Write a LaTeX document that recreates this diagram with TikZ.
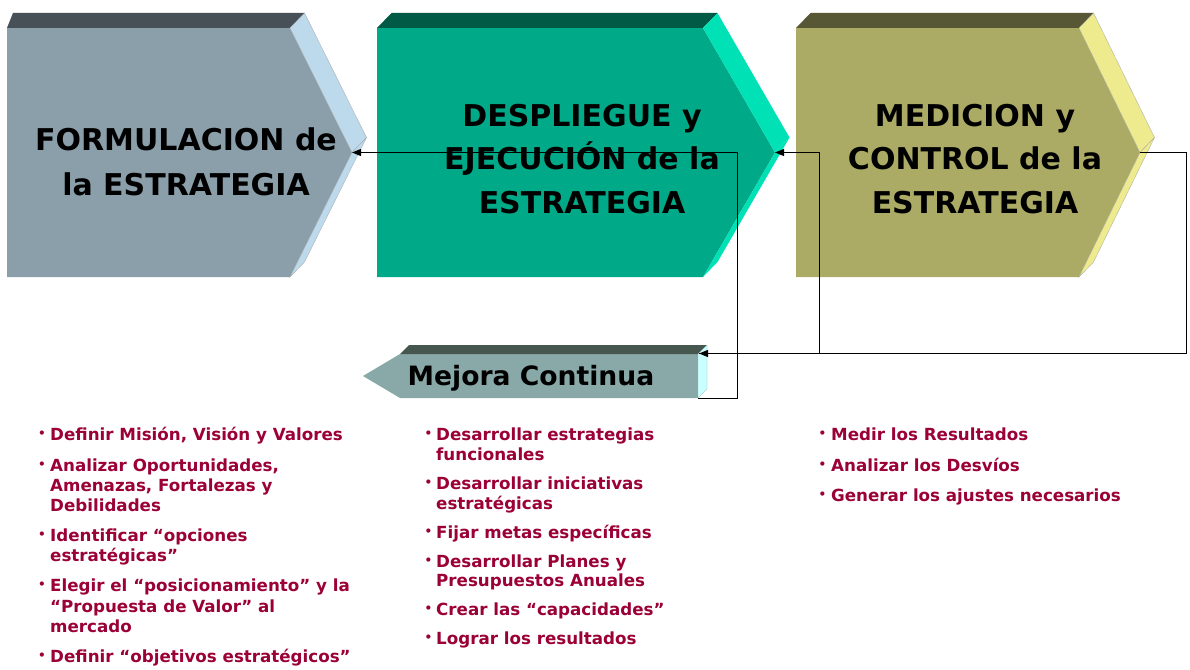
\documentclass[tikz,border=0pt]{standalone}
\usepackage{fontspec}
\setmainfont{DejaVu Sans}
\usetikzlibrary{arrows.meta,calc}
\definecolor{fFront}{HTML}{8A9FAA}
\definecolor{fTop}{HTML}{475057}
\definecolor{fSide}{HTML}{BDD9EC}
\definecolor{dFront}{HTML}{00A987}
\definecolor{dTop}{HTML}{005A46}
\definecolor{dSide}{HTML}{00E2B6}
\definecolor{mFront}{HTML}{ABAB66}
\definecolor{mTop}{HTML}{585735}
\definecolor{mSide}{HTML}{EDEB8E}
\definecolor{cFront}{HTML}{89A8A8}
\definecolor{cTop}{HTML}{45574F}
\definecolor{cSide}{HTML}{C9FFFF}
\definecolor{bul}{HTML}{9B0036}
\tikzset{
  title/.style={font=\fontsize{30}{44}\selectfont\bfseries, text=black, anchor=base, inner sep=0pt},
  mejora/.style={font=\fontsize{26.6}{30}\selectfont\bfseries, text=black, anchor=base, inner sep=0pt},
  item/.style={font=\fontsize{16.7}{20}\selectfont\bfseries, text=bul, anchor=base west, inner sep=0pt},
  dot/.style={font=\fontsize{12}{12}\selectfont\bfseries, text=bul, anchor=base west, inner sep=0pt},
  edge/.style={draw=gray!70, line width=0.3pt},
  conn/.style={draw=black, line width=1pt},
  arr/.style={-{Triangle[length=9pt,width=7pt]}}
}
\begin{document}
\begin{tikzpicture}[x=1pt,y=-1pt]
\useasboundingbox (0,0) rectangle (1190,669);
\fill[white] (0,0) rectangle (1190,669);
% FORMULACION chevron
\fill[fFront] (7,28) -- (290,28) -- (352,152.5) -- (290,277) -- (7,277) -- cycle;
\fill[fTop] (7,28) -- (13,13) -- (304.5,13) -- (290,28) -- cycle;
\filldraw[fill=fSide,edge] (290,28) -- (304.5,13) -- (366.5,137.5) -- (352,152.5) -- cycle;
\filldraw[fill=fSide,edge] (352,152.5) -- (366.5,137.5) -- (304.5,262) -- (290,277) -- cycle;
% DESPLIEGUE chevron
\fill[dFront] (377,28) -- (703,28) -- (775,152.5) -- (703,277) -- (377,277) -- cycle;
\fill[dTop] (377,28) -- (391.5,13) -- (717.5,13) -- (703,28) -- cycle;
\fill[dSide] (703,28) -- (717.5,13) -- (789.5,137.5) -- (775,152.5) -- cycle;
\fill[dSide] (775,152.5) -- (789.5,137.5) -- (717.5,262) -- (703,277) -- cycle;
% MEDICION chevron
\fill[mFront] (796,28) -- (1079,28) -- (1140,152.5) -- (1079,277) -- (796,277) -- cycle;
\fill[mTop] (796,28) -- (810.5,13) -- (1093.5,13) -- (1079,28) -- cycle;
\filldraw[fill=mSide,edge] (1079,28) -- (1093.5,13) -- (1154.5,137.5) -- (1140,152.5) -- cycle;
\filldraw[fill=mSide,edge] (1140,152.5) -- (1154.5,137.5) -- (1093.5,262) -- (1079,277) -- cycle;
% Mejora Continua
\fill[cFront] (400,354) -- (698,354) -- (698,398) -- (400,398) -- (363,376) -- cycle;
\fill[cTop] (400,354) -- (409,345) -- (707,345) -- (698,354) -- cycle;
\filldraw[fill=cSide,edge] (698,354) -- (707,345) -- (707,389) -- (698,398) -- cycle;
% titles
\node[title] (f1) at (186,150) {FORMULACION de};
\node[title] (f2) at (186,195) {la ESTRATEGIA};
\node[title] (d1) at (582,126) {DESPLIEGUE y};
\node[title] (d2) at (582,169.5) {EJECUCIÓN de la};
\node[title] (d3) at (582,213) {ESTRATEGIA};
\node[title] (m1) at (975,126) {MEDICION y};
\node[title] (m2) at (975,169.5) {CONTROL de la};
\node[title] (m3) at (975,213) {ESTRATEGIA};
\node[mejora] (mc) at (531,385) {Mejora Continua};
% connector anchors
\coordinate (ftip) at (352,152.5);
\coordinate (dtip) at (775,152.5);
\coordinate (mtip) at (1140,152.5);
\coordinate (mctr) at (699,353.5);
\coordinate (mcbr) at (698,398);
\coordinate (j) at (819,353.5);
\draw[conn,arr] (mcbr) -- ++(39,0) |- (ftip);
\draw[conn,arr] (mtip) -- ++(46,0) |- (mctr);
\draw[conn,arr] (mctr) -- (j) |- (dtip);
% column 1
\foreach \n/\y in {a/440,b/471.5,c/541,d/591.5,e/662}{\node[dot] (b1\n) at (38,\y-3) {•};}
\node[item] (a1) at (50,440) {Definir Misión, Visión y Valores};
\node[item] (a2) at (50,471.5) {Analizar Oportunidades,};
\node[item] (a3) at (50,491.5) {Amenazas, Fortalezas y};
\node[item] (a4) at (50,511.5) {Debilidades};
\node[item] (a5) at (50,541) {Identificar “opciones};
\node[item] (a6) at (50,561) {estratégicas”};
\node[item] (a7) at (50,591.5) {Elegir el “posicionamiento” y la};
\node[item] (a8) at (50,612) {“Propuesta de Valor” al};
\node[item] (a9) at (50,632) {mercado};
\node[item] (a10) at (50,662) {Definir “objetivos estratégicos”};
% column 2
\foreach \n/\y in {a/440.5,b/489.5,c/538,d/567,e/615.5,f/644}{\node[dot] (b2\n) at (424.5,\y-3) {•};}
\node[item] (c1) at (436,440.5) {Desarrollar estrategias};
\node[item] (c2) at (436,460) {funcionales};
\node[item] (c3) at (436,489.5) {Desarrollar iniciativas};
\node[item] (c4) at (436,509) {estratégicas};
\node[item] (c5) at (436,538) {Fijar metas específicas};
\node[item] (c6) at (436,567) {Desarrollar Planes y};
\node[item] (c7) at (436,586.5) {Presupuestos Anuales};
\node[item] (c8) at (436,615.5) {Crear las “capacidades”};
\node[item] (c9) at (436,644) {Lograr los resultados};
% column 3
\foreach \n/\y in {a/440,b/471,c/501}{\node[dot] (b3\n) at (818.5,\y-3) {•};}
\node[item] (e1) at (831,440) {Medir los Resultados};
\node[item] (e2) at (831,471) {Analizar los Desvíos};
\node[item] (e3) at (831,501) {Generar los ajustes necesarios};
\end{tikzpicture}
\end{document}
